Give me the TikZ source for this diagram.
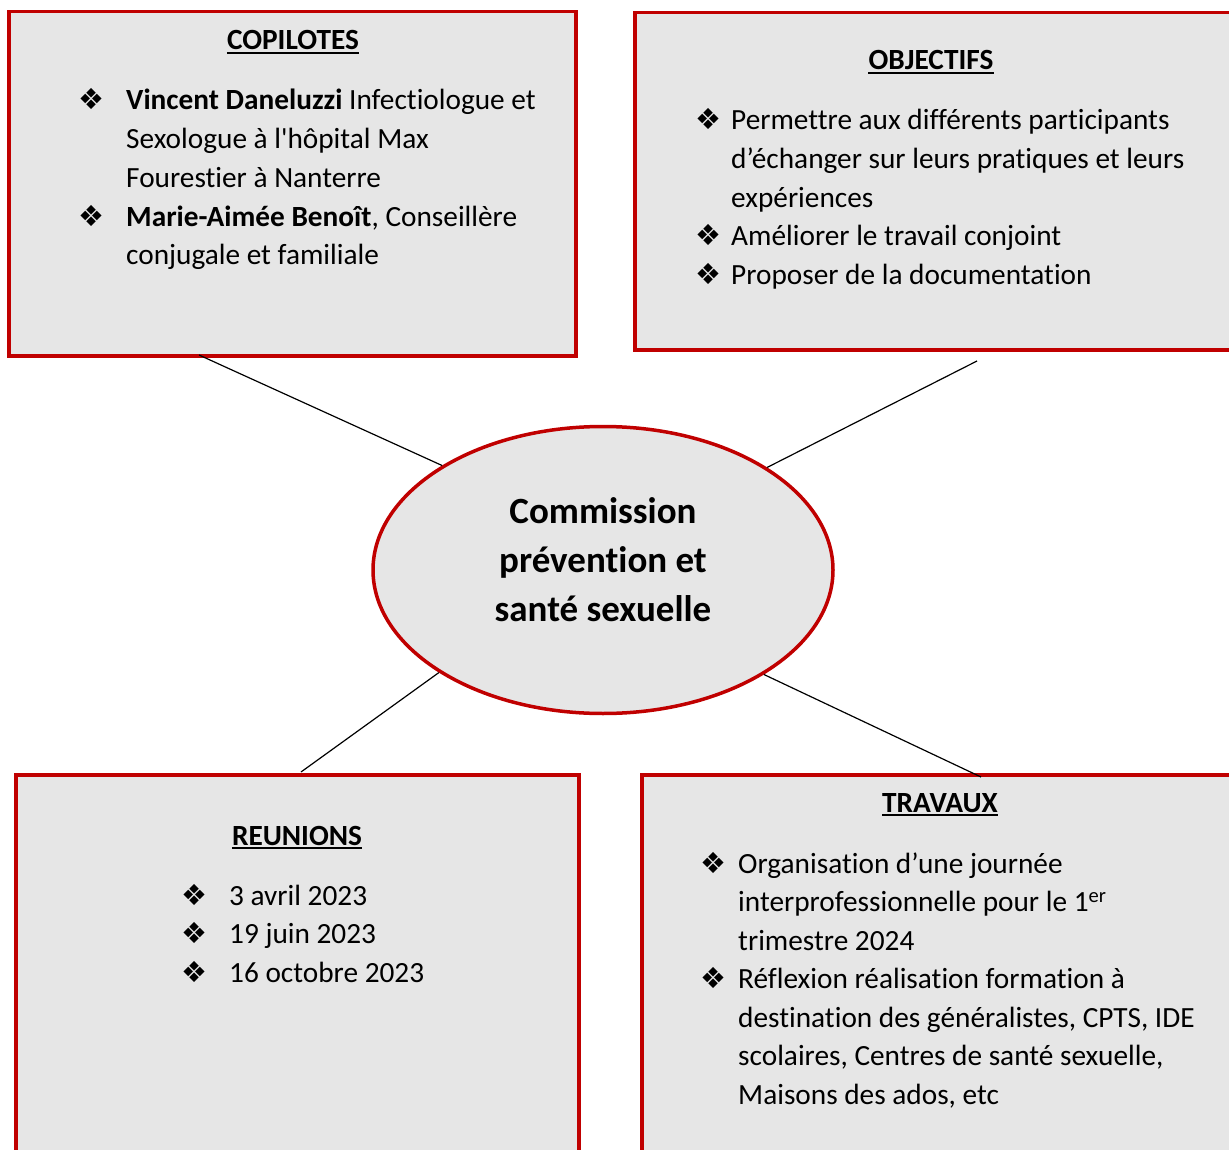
\documentclass[tikz,border=0pt]{standalone}
\usepackage{fontspec}
\setmainfont{Carlito}[Ligatures={TeX,NoCommon}]
\newfontfamily\dejavu{DejaVu Sans}
\usetikzlibrary{shapes.geometric,calc}
\definecolor{boxred}{RGB}{192,0,0}
\definecolor{boxfill}{RGB}{230,230,230}
\begin{document}
\begin{tikzpicture}[x=1pt,y=-1pt,
  panel/.style={draw=boxred, line width=3.5pt, fill=boxfill, anchor=north west, inner sep=0pt},
  ln/.style={anchor=base west, inner sep=0pt, font=\fontsize{29.3}{34}\selectfont},
  bl/.style={anchor=base, inner sep=0pt, font=\fontsize{29}{34}\dejavu},
  ttl/.style={anchor=base, inner sep=0pt, font=\fontsize{29.3}{34}\selectfont\bfseries},
  uline/.style={draw=black, line width=1.8pt},
  link/.style={draw=black, line width=1.2pt}]
\useasboundingbox (0,0) rectangle (1229,1150);
\clip (0,0) rectangle (1229,1150);

% panels
\node[panel, minimum width=567pt, minimum height=344pt] (copbox) at (7,10) {};
\node[panel, minimum width=620pt, minimum height=337pt] (objbox) at (633,11) {};
\node[panel, minimum width=563pt, minimum height=420pt] (reubox) at (14,773) {};
\node[panel, minimum width=620pt, minimum height=420pt] (trabox) at (640,773) {};

% central ellipse
\node[ellipse, draw=boxred, line width=3.5pt, fill=boxfill, minimum width=460pt, minimum height=287pt, inner sep=0pt] (ell) at (603,570) {};
\node[align=center, inner sep=0pt, font=\fontsize{37}{49}\selectfont\bfseries] (elltxt) at (603,560)
  {Commission\\prévention et\\santé sexuelle};

% COPILOTES
\node[ttl] (copt) at (293,50) {COPILOTES};
\draw[uline] ($(copt.base west)+(0,3)$) -- ($(copt.base east)+(0,3)$);
\node[bl] (copb1) at (91,110) {❖};
\node[ln] (copl1) at (126,110) {\textbf{Vincent Daneluzzi} Infectiologue et};
\node[ln] (copl2) at (126,149) {Sexologue à l\textquotesingle hôpital Max};
\node[ln] (copl3) at (126,187.5) {Fourestier à Nanterre};
\node[bl] (copb2) at (91,226.5) {❖};
\node[ln] (copl4) at (126,226.5) {\textbf{Marie-Aimée Benoît}, Conseillère};
\node[ln] (copl5) at (126,265) {conjugale et familiale};

% OBJECTIFS
\node[ttl] (objt) at (931,70) {OBJECTIFS};
\draw[uline] ($(objt.base west)+(0,3)$) -- ($(objt.base east)+(0,3)$);
\node[bl] (objb1) at (708,130) {❖};
\node[ln] (objl1) at (731,130) {Permettre aux différents participants};
\node[ln] (objl2) at (731,168.7) {d’échanger sur leurs pratiques et leurs};
\node[ln] (objl3) at (731,207.5) {expériences};
\node[bl] (objb2) at (708,246) {❖};
\node[ln] (objl4) at (731,246) {Améliorer le travail conjoint};
\node[bl] (objb3) at (708,285) {❖};
\node[ln] (objl5) at (731,285) {Proposer de la documentation};

% REUNIONS
\node[ttl] (reut) at (297,845) {REUNIONS};
\draw[uline] ($(reut.base west)+(0,3)$) -- ($(reut.base east)+(0,3)$);
\node[bl] (reub1) at (194,905) {❖};
\node[ln] (reul1) at (229,905) {3 avril 2023};
\node[bl] (reub2) at (194,943.5) {❖};
\node[ln] (reul2) at (229,943.5) {19 juin 2023};
\node[bl] (reub3) at (194,982) {❖};
\node[ln] (reul3) at (229,982) {16 octobre 2023};

% TRAVAUX
\node[ttl] (trat) at (940,812) {TRAVAUX};
\draw[uline] ($(trat.base west)+(0,3)$) -- ($(trat.base east)+(0,3)$);
\node[bl] (trab1) at (713,873) {❖};
\node[ln] (tral1) at (738,873) {Organisation d’une journée};
\node[ln] (tral2) at (738,911.5) {interprofessionnelle pour le 1\textsuperscript{er}};
\node[ln] (tral3) at (738,950) {trimestre 2024};
\node[bl] (trab2) at (713,988.5) {❖};
\node[ln] (tral4) at (738,988.5) {Réflexion réalisation formation à};
\node[ln] (tral5) at (738,1027) {destination des généralistes, CPTS, IDE};
\node[ln] (tral6) at (738,1065.5) {scolaires, Centres de santé sexuelle,};
\node[ln] (tral7) at (738,1104) {Maisons des ados, etc};

% connectors
\coordinate (cTL) at (199,355);
\coordinate (cTR) at (977,361);
\coordinate (cBL) at (301,772);
\coordinate (cBR) at (981,777);
\draw[link] (cTL) -- (ell.147.7);
\draw[link] (cTR) -- (ell.32.3);
\draw[link] (cBL) -- (ell.212.7);
\draw[link] (cBR) -- (ell.327.3);
\end{tikzpicture}
\end{document}
